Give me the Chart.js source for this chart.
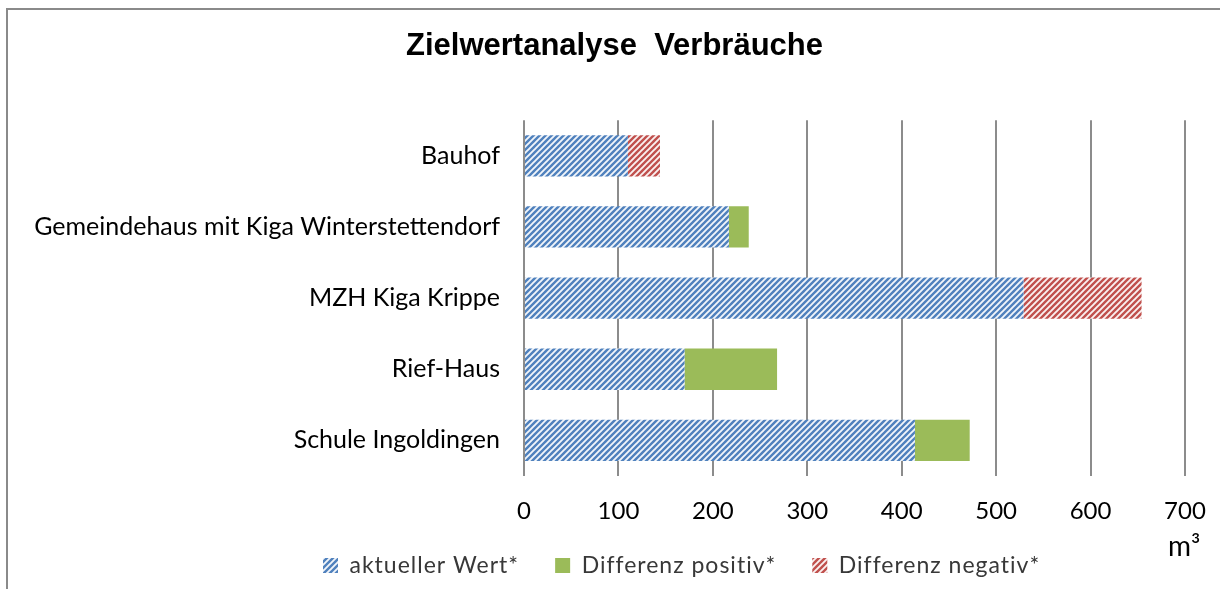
<!DOCTYPE html>
<html>
<head>
<meta charset="utf-8">
<title>Zielwertanalyse Verbräuche</title>
<script src="https://cdn.jsdelivr.net/npm/chart.js@4.4.1/dist/chart.umd.min.js"></script>
<style>
  html, body { margin: 0; padding: 0; background: #fff; overflow: hidden; }
  #wrap { position: relative; width: 1220px; height: 589px; }
  #frame {
    position: absolute; left: 6px; top: 8px; width: 1230px; height: 600px;
    border-top: 2px solid #8a8a8a; border-left: 2px solid #8a8a8a;
    pointer-events: none;
  }
</style>
</head>
<body>
<div id="wrap">
  <canvas id="chart"></canvas>
  <div id="frame"></div>
</div>
<script>
// values (m³)
const categories = [
  'Bauhof',
  'Gemeindehaus mit Kiga Winterstettendorf',
  'MZH Kiga Krippe',
  'Rief-Haus',
  'Schule Ingoldingen'
];
const aktuellerWert = [110, 217, 529, 170, 414];
const differenzPositiv = [0, 21, 0, 98, 58];
const differenzNegativ = [34, 0, 125, 0, 0];
const xTicks = [0, 100, 200, 300, 400, 500, 600, 700];
const unitLabel = 'm³';

const BLUE = '#4f81bd';
const GREEN = '#9bbb59';
const RED = '#c0504d';

// excel-like "upward diagonal" hatch
function hatch(color) {
  const size = 6;
  const c = document.createElement('canvas');
  c.width = size; c.height = size;
  const g = c.getContext('2d');
  g.fillStyle = color;
  g.fillRect(0, 0, size, size);
  g.strokeStyle = 'rgba(255,255,255,0.92)';
  g.lineWidth = 1.9;
  g.beginPath();
  g.moveTo(-1, size + 1); g.lineTo(size + 1, -1);
  g.moveTo(-1, 1); g.lineTo(1, -1);
  g.moveTo(size - 1, size + 1); g.lineTo(size + 1, size - 1);
  g.stroke();
  return g.createPattern(c, 'repeat');
}

const labelFont = 'Lato, "Open Sans", sans-serif';

// excel centres title / legend a bit differently, and puts the unit under the last tick
const TITLE_SHIFT = 22;
const LEGEND_START = 323;
const excelLook = {
  id: 'excelLook',
  afterLayout(chart) {
    if (chart.titleBlock) {
      chart.titleBlock.left += TITLE_SHIFT;
      chart.titleBlock.right += TITLE_SHIFT;
    }
    // let the tick labels hang below the axis box without being clipped
    chart.scales.x.bottom += 30;
    const lg = chart.legend;
    if (lg && lg.lineWidths) {
      const p = lg.options.labels.padding;
      const startX = (lg.left + p + lg.right - lg.lineWidths[0]) / 2;
      const dx = LEGEND_START - startX;
      lg.left += dx;
      lg.right += dx;
      if (!lg._spaced) {
        const orig = lg.draw.bind(lg);
        lg.draw = function (area) {
          chart.ctx.save();
          chart.ctx.letterSpacing = '1px';
          orig(area);
          chart.ctx.restore();
        };
        lg._spaced = true;
      }
    }
  },
  afterDraw(chart) {
    const x = chart.scales.x;
    const c = chart.ctx;
    c.save();
    c.font = '28px ' + labelFont;
    c.fillStyle = '#000';
    c.textAlign = 'left';
    c.textBaseline = 'alphabetic';
    c.fillText(unitLabel, x.right - 17, 556);
    c.restore();
  }
};

const ctx = document.getElementById('chart').getContext('2d');
new Chart(ctx, {
  type: 'bar',
  data: {
    labels: categories,
    datasets: [
      { label: 'aktueller Wert*', data: aktuellerWert, backgroundColor: hatch(BLUE) },
      { label: 'Differenz positiv*', data: differenzPositiv, backgroundColor: GREEN },
      { label: 'Differenz negativ*', data: differenzNegativ, backgroundColor: hatch(RED) }
    ]
  },
  plugins: [excelLook],
  options: {
    indexAxis: 'y',
    responsive: true,
    maintainAspectRatio: false,
    animation: false,
    datasets: {
      bar: { barPercentage: 0.58, categoryPercentage: 1, borderWidth: 0 }
    },
    layout: { padding: { left: 0, right: 35, top: 0, bottom: 2 } },
    plugins: {
      title: {
        display: true,
        text: 'Zielwertanalyse  Verbräuche',
        color: '#000',
        font: { family: '"Liberation Sans", Arial, sans-serif', size: 31, weight: 'bold', lineHeight: 1.2 },
        padding: { top: 28, bottom: 55 }
      },
      legend: {
        position: 'bottom',
        labels: {
          color: '#383838',
          font: { family: labelFont, size: 23 },
          boxWidth: 15,
          boxHeight: 15,
          padding: 36
        }
      },
      tooltip: { enabled: false }
    },
    scales: {
      x: {
        stacked: true,
        min: 0,
        max: 700,
        afterBuildTicks(scale) {
          scale.ticks = xTicks.map(v => ({ value: v }));
        },
        afterFit(scale) {
          scale.height = 42;
          scale.paddingLeft = 0;
          scale.paddingRight = 0;
        },
        grid: { color: '#8c8c8c', lineWidth: 2, drawTicks: false },
        border: { display: false },
        ticks: {
          color: '#000',
          padding: 21,
          maxRotation: 0,
          font: { family: labelFont, size: 24 }
        }
      },
      y: {
        stacked: true,
        afterFit(scale) { scale.width = 524; },
        grid: { display: false, drawTicks: false },
        border: { display: false },
        ticks: {
          color: '#000',
          padding: 24,
          font: { family: labelFont, size: 25 }
        }
      }
    }
  }
});
</script>
</body>
</html>
